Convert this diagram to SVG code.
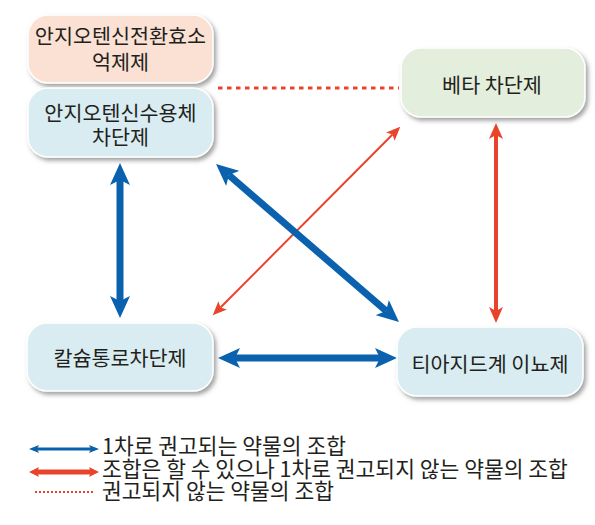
<svg xmlns="http://www.w3.org/2000/svg" width="595" height="525" viewBox="0 0 595 525">
<defs>
<style>
text{font-family:"Noto Sans CJK KR","Noto Sans",sans-serif;fill:#231f20;text-anchor:middle;}
.n{font-size:20.7px;}
.lg{font-size:21.5px;text-anchor:start;}
.box{stroke:#ffffff;stroke-width:1.5;filter:url(#sh);}
.blue{stroke:#0a62ae;fill:none;}
.red{stroke:#e8442b;fill:none;}
</style>
<filter id="sh" x="-10%" y="-10%" width="130%" height="140%">
<feDropShadow dx="2.5" dy="3" stdDeviation="2" flood-color="#555" flood-opacity="0.55"/>
</filter>
<marker id="bh" viewBox="0 0 22 20" markerWidth="22" markerHeight="20" refX="5" refY="10" orient="auto-start-reverse" markerUnits="userSpaceOnUse">
<path d="M0,0 L22,10 L0,20 L5,10 Z" fill="#0a62ae"/>
</marker>
<marker id="rh" viewBox="0 0 16 14" markerWidth="16" markerHeight="14" refX="4" refY="7" orient="auto-start-reverse" markerUnits="userSpaceOnUse">
<path d="M0,0 L16,7 L0,14 L4,7 Z" fill="#e8442b"/>
</marker>
<marker id="rt" viewBox="0 0 14 12" markerWidth="14" markerHeight="12" refX="3" refY="6" orient="auto-start-reverse" markerUnits="userSpaceOnUse">
<path d="M0,0 L14,6 L0,12 L3,6 Z" fill="#e8442b"/>
</marker>
<marker id="lbh" viewBox="0 0 10 8" markerWidth="10" markerHeight="8" refX="2" refY="4" orient="auto-start-reverse" markerUnits="userSpaceOnUse">
<path d="M0,0 L10,4 L0,8 L2,4 Z" fill="#0a62ae"/>
</marker>
<marker id="lrh" viewBox="0 0 10 10" markerWidth="10" markerHeight="10" refX="2" refY="5" orient="auto-start-reverse" markerUnits="userSpaceOnUse">
<path d="M0,0 L10,5 L0,10 L2,5 Z" fill="#e8442b"/>
</marker>
</defs>
<rect width="595" height="525" fill="#ffffff"/>

<g id="connectors">
<line class="red" x1="218" y1="88" x2="399" y2="88" stroke-width="3" stroke-dasharray="4.5,4.5"/>
<line class="blue" x1="120" y1="180" x2="120" y2="301" stroke-width="7" marker-start="url(#bh)" marker-end="url(#bh)"/>
<line class="red" x1="220.5" y1="307.5" x2="392.5" y2="134.5" stroke-width="2" marker-start="url(#rt)" marker-end="url(#rt)"/>
<line class="blue" x1="228.9" y1="175.1" x2="386.1" y2="310.9" stroke-width="7" marker-start="url(#bh)" marker-end="url(#bh)"/>
<line class="blue" x1="235" y1="358" x2="380" y2="358" stroke-width="7" marker-start="url(#bh)" marker-end="url(#bh)"/>
<line class="red" x1="496" y1="135" x2="496" y2="311" stroke-width="4" marker-start="url(#rh)" marker-end="url(#rh)"/>
</g>

<g id="ace">
<rect class="box" x="28" y="15" width="185" height="68" rx="20" fill="#fbe1d3"/>
<text class="n" x="120.5" y="43.5">안지오텐신전환효소</text>
<text class="n" x="120.5" y="70">억제제</text>
</g>
<g id="arb">
<rect class="box" x="28" y="88" width="185" height="69" rx="20" fill="#d8ecf1"/>
<text class="n" x="120.5" y="120.5">안지오텐신수용체</text>
<text class="n" x="120.5" y="145">차단제</text>
</g>
<g id="beta">
<rect class="box" x="401" y="48" width="184" height="69" rx="20" fill="#e3efdc"/>
<text class="n" x="492" y="92.5">베타 차단제</text>
</g>
<g id="ccb">
<rect class="box" x="27" y="323" width="186" height="68" rx="20" fill="#d8ecf1"/>
<text class="n" x="120" y="365.5">칼슘통로차단제</text>
</g>
<g id="thiazide">
<rect class="box" x="397" y="327" width="186" height="69" rx="20" fill="#d8ecf1"/>
<text class="n" x="490" y="371.5">티아지드계 이뇨제</text>
</g>

<g id="legend">
<line class="blue" x1="37" y1="449" x2="91" y2="449" stroke-width="3" marker-start="url(#lbh)" marker-end="url(#lbh)"/>
<line class="red" x1="37" y1="472" x2="91" y2="472" stroke-width="5" marker-start="url(#lrh)" marker-end="url(#lrh)"/>
<line class="red" x1="35" y1="492" x2="95" y2="492" stroke-width="2" stroke-dasharray="2,2"/>
<text class="lg" x="102" y="454">1차로 권고되는 약물의 조합</text>
<text class="lg" x="102" y="477">조합은 할 수 있으나 1차로 권고되지 않는 약물의 조합</text>
<text class="lg" x="102" y="499">권고되지 않는 약물의 조합</text>
</g>
</svg>
